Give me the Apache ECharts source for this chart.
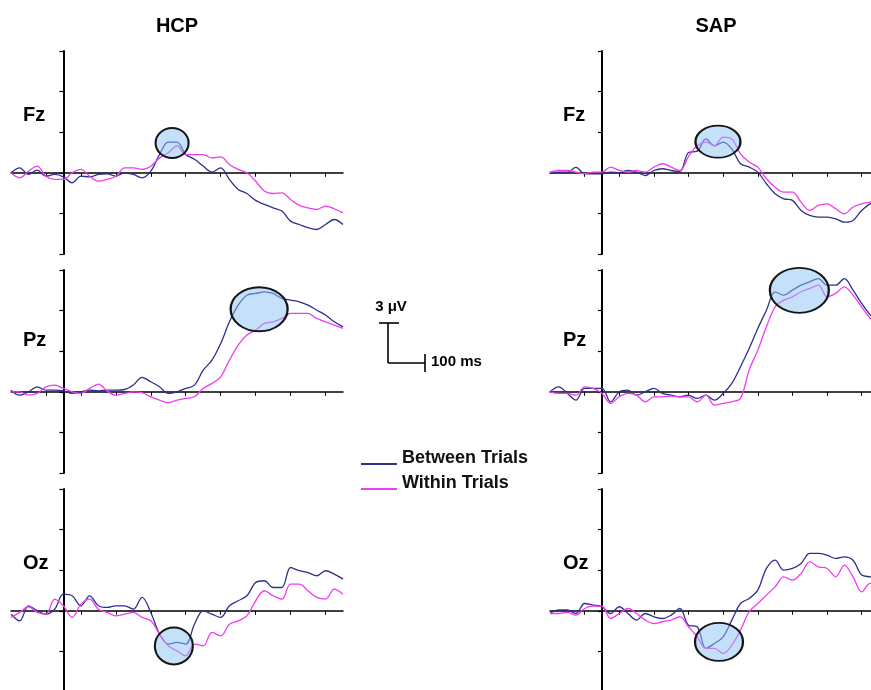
<!DOCTYPE html>
<html>
<head>
<meta charset="utf-8">
<script src="https://cdn.jsdelivr.net/npm/echarts@6/dist/echarts.min.js"></script>
<style>
  html, body { margin: 0; padding: 0; background: #fff; }
  #main { width: 871px; height: 690px; }
</style>
</head>
<body>
<div id="main"></div>
<script>
// time points (ms) shared by every waveform
const times = [-150, -125, -100, -75, -50, -25, 0, 25, 50, 75, 100, 125, 150, 175, 200, 225, 250, 275, 300, 325,
  350, 375, 400, 425, 450, 475, 500, 525, 550, 575, 600, 625, 650, 675, 700, 725, 750, 775, 800];
// x tick marks (ms), y ticks every 3 µV
const xTicks = [-50, 50, 150, 250, 350, 450, 550, 650, 750];

// amplitudes in µV
const hcpFzBetween = [0, 0.37, -0.12, 0.2, -0.25, -0.12, -0.3, -0.74, -0.25, -0.3, -0.12, -0.07, -0.25, 0, -0.12, -0.37, 0.12, 1.35, 2.27, 2.27,
  1.35, 1.0, 0.5, 0.05, 0.37, -0.5, -1.23, -1.53, -2.04, -2.34, -2.59, -2.83, -3.57, -3.82, -4.06, -4.19, -3.82, -3.45, -3.82];
const hcpFzWithin = [0, -0.37, 0.12, 0.49, -0.25, -0.49, -0.49, 0, 0.25, -0.25, -0.62, -0.49, -0.25, 0.37, 0.37, 0.25, 0.49, 1.1, 1.48, 2.0,
  1.35, 1.35, 1.35, 1.1, 1.17, 0.62, 0.25, 0, -0.62, -1.35, -1.53, -1.48, -1.97, -2.41, -2.59, -2.71, -2.46, -2.66, -2.96];
const sapFzBetween = [-0.07, 0.05, 0.05, 0.4, -0.07, -0.07, -0.07, 0.05, 0, 0.17, 0.05, -0.2, 0.17, 0.3, 0.17, 0.1, 1.5, 1.6, 2.5, 2.0,
  2.27, 1.77, 0.67, 0.42, 0.05, -0.81, -1.55, -1.92, -2.04, -2.78, -3.15, -3.28, -3.28, -3.4, -3.65, -3.52, -2.78, -2.29, -2.17];
const sapFzWithin = [0.05, 0.17, 0.17, 0.05, -0.07, 0.05, 0.05, 0.42, 0.17, 0.05, 0.17, 0.05, 0.42, 0.67, 0.42, 0.17, 1.2, 2.0, 2.27, 2.0,
  2.64, 2.5, 1.4, 0.79, 0.42, -0.44, -1.06, -1.43, -1.43, -2.17, -2.78, -2.41, -2.29, -2.66, -3.03, -2.53, -2.29, -2.17, -2.04];

const hcpPzBetween = [0.12, -0.25, 0, 0.37, 0.12, 0.12, 0.07, -0.12, 0, 0.12, 0.07, 0.12, 0.12, 0.17, 0.5, 1.06, 0.74, 0.37, -0.12, 0,
  0.25, 0.49, 1.6, 2.34, 3.57, 5.17, 6.4, 7.14, 7.27, 7.39, 7.27, 6.9, 6.77, 6.65, 6.4, 6.03, 5.67, 5.17, 4.8];
const hcpPzWithin = [0, 0, -0.25, -0.12, 0.37, 0.49, 0.25, 0, -0.12, 0.25, 0.57, 0.07, -0.25, -0.12, 0, -0.07, -0.37, -0.62, -0.81, -0.62,
  -0.49, -0.37, 0.25, 0.62, 1.11, 2.34, 3.45, 4.19, 4.56, 5.05, 5.17, 5.42, 5.79, 5.79, 5.79, 5.42, 5.17, 4.93, 4.68];
const sapPzBetween = [0, 0.37, -0.12, -0.62, 0.25, 0.25, 0.25, -0.74, 0, 0.12, -0.25, 0, 0.25, -0.12, -0.25, -0.37, -0.25, -0.49, -0.25, -0.62,
  -0.12, 0.62, 1.85, 3.2, 4.68, 6.03, 7.39, 7.14, 7.51, 7.88, 8.13, 8.37, 7.88, 7.88, 8.37, 7.51, 6.53, 5.67, 5.05];
const sapPzWithin = [0, -0.12, -0.12, -0.25, 0.37, 0.25, -0.12, -0.86, -0.37, -0.12, -0.25, -0.74, -0.37, -0.37, -0.32, -0.37, -0.37, -0.74, -0.25, -0.99,
  -0.86, -0.74, -0.49, 1.6, 3.08, 4.8, 6.28, 6.77, 7.02, 7.39, 7.64, 7.88, 7.02, 7.27, 7.76, 7.14, 6.28, 5.42, 4.93];

const hcpOzBetween = [-0.25, -0.74, 0.37, 0, -0.25, 0.12, 1.23, 1.11, 0.37, 1.11, 0.37, 0.25, 0.37, 0.37, 0.12, 0.99, -0.12, -1.72, -2.46, -2.34,
  -2.46, -0.99, 0, -0.25, -0.49, 0.37, 0.74, 1.11, 2.09, 2.22, 1.72, 1.72, 3.2, 2.96, 2.83, 2.59, 2.96, 2.71, 2.34];
const hcpOzWithin = [-0.49, -0.12, 0.3, -0.12, -0.25, 0.86, 0.37, -0.49, 0.49, 0.86, 0.12, -0.12, -0.37, -0.25, -0.12, -0.49, -0.74, -1.72, -2.59, -2.96,
  -3.33, -2.46, -2.59, -1.6, -1.85, -0.99, -0.74, -0.37, 0.74, 1.48, 1.11, 0.86, 1.97, 1.97, 1.48, 0.99, 0.86, 1.6, 1.23];
const sapOzBetween = [-0.2, 0.07, 0.07, -0.2, 0.54, 0.42, 0.3, -0.2, 0.3, -0.2, -0.69, -0.2, -0.44, -0.57, -0.32, 0.17, -1.06, -1.18, -2.78, -2.41,
  -1.92, -0.69, 0.54, 0.91, 1.53, 3.13, 3.74, 3.0, 3.13, 3.5, 4.24, 4.24, 4.11, 3.87, 3.99, 3.74, 2.64, 2.51, 2.4];
const sapOzWithin = [-0.2, -0.2, -0.12, -0.32, 0.17, 0.34, 0.34, -0.57, -0.2, 0.17, -0.2, -0.69, -0.94, -0.81, -0.69, -0.44, -1.18, -1.92, -2.78, -2.78,
  -3.15, -2.54, -1.43, -0.07, 0.54, 1.16, 1.77, 2.51, 2.27, 2.76, 3.62, 3.25, 3.13, 2.51, 3.37, 2.51, 1.4, 2.02, 2.0];

// highlighted component per panel: [ms, µV]
const ringCenters = [[311, 2.2], [335, 2.3], [560, 6.1], [570, 7.5], [316, -2.6], [338, -2.3]];

const groups = ['HCP', 'SAP'];
const sites = ['Fz', 'Pz', 'Oz'];
const seriesNames = ['Between Trials', 'Within Trials'];
const waves = [
  [hcpFzBetween, hcpFzWithin], [sapFzBetween, sapFzWithin],
  [hcpPzBetween, hcpPzWithin], [sapPzBetween, sapPzWithin],
  [hcpOzBetween, hcpOzWithin], [sapOzBetween, sapOzWithin]
];

// layout
const colLeft = [11, 550];
const colWidth = [332, 329];
const rowTop = [51, 270, 489];
const rowHeight = 203;
const ringSizes = [[33, 30], [45, 32], [57, 44], [59, 45], [38, 37], [48, 38]];
const colors = ['#2f2f8f', '#f03cf0'];
const font = '"Liberation Sans", Arial, Helvetica, sans-serif';

const chart = echarts.init(document.getElementById('main'), null, { renderer: 'canvas' });

const grid = [], xAxis = [], yAxis = [], series = [];
waves.forEach((pair, i) => {
  const col = i % 2, row = Math.floor(i / 2);
  grid.push({ left: colLeft[col], top: rowTop[row], width: colWidth[col], height: rowHeight, outerBoundsMode: 'none' });
  xAxis.push({
    type: 'value', gridIndex: i, min: -150, max: 800,
    axisLine: { onZero: true, lineStyle: { color: '#000', width: 1.5 } },
    axisTick: { show: true, customValues: xTicks, length: 4, lineStyle: { color: '#000', width: 1 } },
    axisLabel: { show: false }, splitLine: { show: false }
  });
  yAxis.push({
    type: 'value', gridIndex: i, min: -6, max: 9, interval: 3,
    axisLine: { show: true, onZero: true, lineStyle: { color: '#000', width: 2 } },
    axisTick: { show: true, length: 4, lineStyle: { color: '#000', width: 1.2 } },
    axisLabel: { show: false }, splitLine: { show: false }
  });
  pair.forEach((vals, j) => {
    const s = {
      name: seriesNames[j], type: 'line', xAxisIndex: i, yAxisIndex: i,
      data: times.map((t, k) => [t, vals[k]]),
      showSymbol: false, smooth: 0.35, color: colors[j],
      lineStyle: { width: 1.3, color: colors[j] }
    };
    if (j === 1) {
      s.markPoint = {
        silent: true,
        symbol: 'circle',
        label: { show: false },
        itemStyle: { color: 'rgba(139,193,243,0.5)', borderColor: '#151515', borderWidth: 2 },
        data: [{ coord: ringCenters[i], symbolSize: ringSizes[i] }]
      };
    }
    series.push(s);
  });
});

const texts = [];
groups.forEach((g, c) => texts.push({
  type: 'text', x: [177, 716][c], y: 26,
  style: { text: g, font: 'bold 20px ' + font, fill: '#000', align: 'center', verticalAlign: 'middle' }
}));
sites.forEach((s, r) => [23, 563].forEach(x => texts.push({
  type: 'text', x: x, y: [115, 340, 563][r],
  style: { text: s, font: 'bold 20px ' + font, fill: '#000', align: 'left', verticalAlign: 'middle' }
})));

// calibration bar: 3 µV / 100 ms
const bar = { stroke: '#000', lineWidth: 1.6 };
const scaleBar = [
  { type: 'line', shape: { x1: 379, y1: 323, x2: 399, y2: 323 }, style: bar },
  { type: 'line', shape: { x1: 388, y1: 323, x2: 388, y2: 363 }, style: bar },
  { type: 'line', shape: { x1: 388, y1: 363, x2: 425, y2: 363 }, style: bar },
  { type: 'line', shape: { x1: 425, y1: 354, x2: 425, y2: 372 }, style: bar },
  { type: 'text', x: 391, y: 307, style: { text: '3 μV', font: 'bold 15px ' + font, fill: '#000', align: 'center', verticalAlign: 'middle' } },
  { type: 'text', x: 431, y: 362, style: { text: '100 ms', font: 'bold 15px ' + font, fill: '#000', align: 'left', verticalAlign: 'middle' } }
];

chart.setOption({
  animation: false,
  backgroundColor: '#fff',
  legend: {
    data: seriesNames,
    orient: 'vertical', left: 356, top: 444,
    icon: 'path://M0,0M0,12L36,12L36,14L0,14Z',
    itemWidth: 36, itemHeight: 14, itemGap: 7,
    itemStyle: { borderWidth: 0 },
    textStyle: { fontFamily: font, fontSize: 18, fontWeight: 'bold', color: '#111' },
    selectedMode: false
  },
  grid, xAxis, yAxis, series,
  graphic: texts.concat(scaleBar)
});
</script>
</body>
</html>
